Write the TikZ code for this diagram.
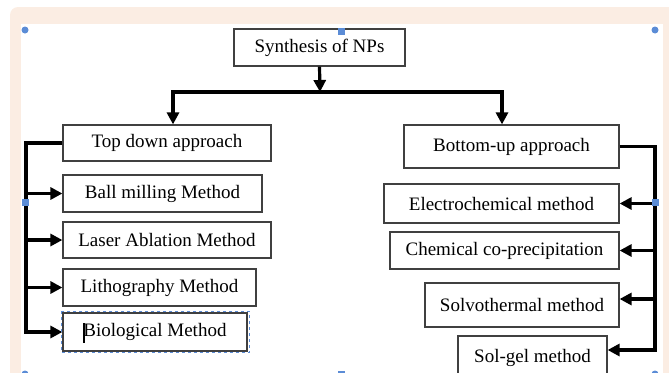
\documentclass[tikz,border=0pt]{standalone}
\usepackage{fontspec}
\setmainfont{Liberation Serif}
\usetikzlibrary{arrows.meta}
\definecolor{framepeach}{RGB}{251,237,227}
\definecolor{handleblue}{RGB}{91,140,214}
\begin{document}
\begin{tikzpicture}[x=1pt,y=-1pt,
  box/.style={draw=black!75,line width=1.2pt,fill=white,inner sep=0pt,font=\fontsize{19}{22}\selectfont},
  arr/.style={line width=3.2pt,-{Triangle[length=12pt,width=12pt]}}]
\useasboundingbox (0,0) rectangle (669,372);
\fill[framepeach,rounded corners=8pt] (10,7) rectangle (690,400);
\fill[white] (21,24) rectangle (663,400);
% boxes
\node[box,minimum width=171pt,minimum height=37pt] (synth) at (319.5,47.5) {Synthesis of NPs};
\node[box,minimum width=208pt,minimum height=36pt] (top) at (167,143) {Top down approach};
\node[box,minimum width=215pt,minimum height=43pt] (bottom) at (511.5,146.5) {Bottom-up approach};
\node[box,minimum width=199pt,minimum height=37pt] (ball) at (162.5,193.5) {Ball milling Method};
\node[box,minimum width=208pt,minimum height=36pt] (laser) at (167,240) {Laser Ablation Method};
\node[box,minimum width=193pt,minimum height=37pt] (litho) at (159.5,287.5) {Lithography Method};
\node[box,minimum width=184pt,minimum height=38pt] (bio) at (155,332) {Biological Method};
\node[box,minimum width=235pt,minimum height=39pt] (electro) at (501.5,203.5) {Electrochemical method};
\node[box,minimum width=229pt,minimum height=37pt] (chem) at (504.5,250.5) {Chemical co-precipitation};
\node[box,minimum width=194pt,minimum height=44pt] (solvo) at (522,305) {Solvothermal method};
\node[box,minimum width=149pt,minimum height=44pt] (solgel) at (532.5,358) {Sol-gel method};
% split
\coordinate (split) at (320,92);
\coordinate (tdx) at (173,92);
\coordinate (bux) at (502,92);
\draw[arr] (synth.south) -- (split);
\draw[arr] (split) -- (tdx) -- (tdx |- top.north);
\draw[arr] (split) -- (bux) -- (bux |- bottom.north);
% left side
\coordinate (lbus) at (26,0);
\draw[arr] (top.west) -- (top.west -| lbus) -- (lbus |- bio.west) -- (bio.west);
\foreach \m in {ball,laser,litho}
  \draw[arr] (lbus |- \m.west) -- (\m.west);
% right side
\coordinate (rbus) at (655,0);
\coordinate (solvoin) at ([yshift=6pt]solvo.east);
\coordinate (solgelin) at ([yshift=8pt]solgel.east);
\draw[arr] (bottom.east) -- (bottom.east -| rbus) -- (rbus |- solgelin) -- (solgelin);
\foreach \m in {electro,chem,solvoin}
  \draw[arr] (rbus |- \m) -- (\m);
% selection marks
\draw[handleblue,dashed,line width=0.8pt] ([shift={(-1,-1)}]bio.north west) rectangle ([shift={(2,1)}]bio.south east);
\draw[line width=2pt] (84,323) -- (84,343);
\foreach \x/\y in {25/30,655/30,25/374,655/374}
  \fill[handleblue] (\x,\y) circle (3.5pt);
\foreach \x/\y in {341/31,25/202,655/202,341/374}
  \fill[handleblue] (\x,\y) +(-3.5,-3.5) rectangle +(3.5,3.5);
\end{tikzpicture}
\end{document}
